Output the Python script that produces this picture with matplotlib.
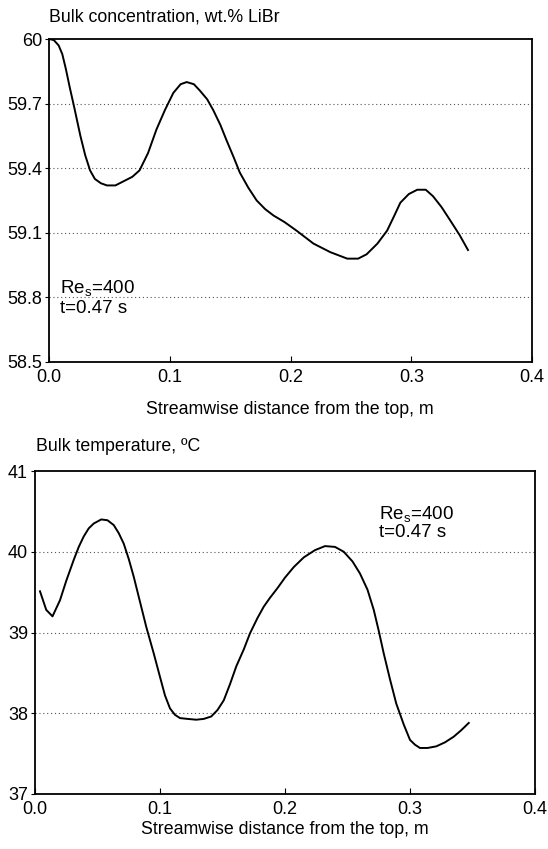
import matplotlib
matplotlib.use("Agg")
import matplotlib.pyplot as plt

# Bulk concentration along the film (wt.% LiBr)
conc_x = [0.0, 0.004, 0.008, 0.011, 0.014, 0.017, 0.021, 0.026, 0.030, 0.034,
          0.038, 0.043, 0.048, 0.055, 0.062, 0.069, 0.075, 0.082, 0.089, 0.096,
          0.103, 0.109, 0.114, 0.12, 0.125, 0.131, 0.136, 0.142, 0.147, 0.153,
          0.158, 0.165, 0.172, 0.179, 0.186, 0.195, 0.205, 0.219, 0.233, 0.247,
          0.256, 0.263, 0.272, 0.280, 0.286, 0.291, 0.298, 0.305, 0.312, 0.318,
          0.325, 0.332, 0.340, 0.347]
conc_y = [60.0, 59.995, 59.97, 59.93, 59.86, 59.78, 59.68, 59.55, 59.46, 59.39,
          59.35, 59.33, 59.32, 59.32, 59.34, 59.36, 59.39, 59.47, 59.58, 59.67,
          59.75, 59.79, 59.80, 59.79, 59.76, 59.72, 59.67, 59.60, 59.53, 59.45,
          59.38, 59.31, 59.25, 59.21, 59.18, 59.15, 59.11, 59.05, 59.01, 58.98,
          58.98, 59.00, 59.05, 59.11, 59.18, 59.24, 59.28, 59.30, 59.30, 59.27,
          59.22, 59.16, 59.09, 59.02]

# Bulk temperature along the film (deg C)
temp_x = [0.004, 0.009, 0.014, 0.02, 0.025, 0.031, 0.035, 0.039, 0.043, 0.047,
          0.053, 0.058, 0.063, 0.067, 0.071, 0.075, 0.079, 0.084, 0.089, 0.095,
          0.1, 0.104, 0.108, 0.112, 0.116, 0.122, 0.129, 0.135, 0.141, 0.146,
          0.151, 0.156, 0.161, 0.167, 0.172, 0.178, 0.183, 0.188, 0.194, 0.2,
          0.207, 0.215, 0.224, 0.232, 0.24, 0.247, 0.254, 0.26, 0.266, 0.271,
          0.275, 0.279, 0.284, 0.289, 0.295, 0.3, 0.304, 0.308, 0.314, 0.321,
          0.328, 0.335, 0.341, 0.347]
temp_y = [39.51, 39.28, 39.20, 39.40, 39.64, 39.90, 40.06, 40.19, 40.29, 40.35,
          40.40, 40.39, 40.33, 40.23, 40.10, 39.91, 39.69, 39.38, 39.07, 38.74,
          38.45, 38.22, 38.06, 37.98, 37.94, 37.93, 37.92, 37.93, 37.96, 38.04,
          38.16, 38.36, 38.58, 38.79, 38.99, 39.18, 39.32, 39.43, 39.55, 39.68,
          39.81, 39.93, 40.02, 40.07, 40.06, 40.00, 39.88, 39.73, 39.53, 39.28,
          39.02, 38.74, 38.42, 38.12, 37.86, 37.67, 37.61, 37.57, 37.57, 37.59,
          37.64, 37.71, 37.79, 37.88]

x_ticks = [0.0, 0.1, 0.2, 0.3, 0.4]
x_labels = ["0.0", "0.1", "0.2", "0.3", "0.4"]
conc_ticks = [58.5, 58.8, 59.1, 59.4, 59.7, 60.0]
conc_labels = ["58.5", "58.8", "59.1", "59.4", "59.7", "60"]
temp_ticks = [37, 38, 39, 40, 41]
temp_labels = ["37", "38", "39", "40", "41"]

plt.rcParams["font.family"] = ["Liberation Sans", "DejaVu Sans"]
plt.rcParams["mathtext.fontset"] = "custom"
plt.rcParams["mathtext.rm"] = "Liberation Sans"
plt.rcParams["font.size"] = 12.8

W, H = 548, 849
fig = plt.figure(figsize=(W / 100, H / 100), dpi=100)


def style_axes(ax, yticks, ylabels, ymin, ymax):
    ax.set_xlim(0, 0.4)
    ax.set_ylim(ymin, ymax)
    ax.set_xticks(x_ticks)
    ax.set_xticklabels(x_labels, fontsize=13)
    ax.set_yticks(yticks)
    ax.set_yticklabels(ylabels, fontsize=13)
    ax.tick_params(axis="x", direction="in", length=4, width=0.8, pad=5)
    ax.tick_params(axis="y", direction="out", length=3, width=0.8, pad=2)
    for s in ax.spines.values():
        s.set_linewidth(1.3)
    # dotted horizontal grid at the y ticks only
    for yv in yticks[1:-1]:
        ax.axhline(yv, color="#555555", lw=0.8, ls=(0, (1, 2.5)), zorder=1)


# top panel: concentration
ax1 = fig.add_axes([49 / W, 1 - 362 / H, 483 / W, 323 / H])
ax1.plot(conc_x, conc_y, color="black", lw=1.4, zorder=3)
style_axes(ax1, conc_ticks, conc_labels, 58.5, 60.0)
ax1.text(0.009, 58.84, r"Re$_{\rm s}$=400", ha="left", va="center", fontsize=13.5)
ax1.text(0.009, 58.75, "t=0.47 s", ha="left", va="center", fontsize=13.5)
fig.text(49 / W, 1 - 17 / H, "Bulk concentration, wt.% LiBr", ha="left", va="center")
fig.text(290 / W, 1 - 409 / H, "Streamwise distance from the top, m", ha="center", va="center")

# bottom panel: temperature
ax2 = fig.add_axes([35 / W, 1 - 794 / H, 500 / W, 323 / H])
ax2.plot(temp_x, temp_y, color="black", lw=1.4, zorder=3)
style_axes(ax2, temp_ticks, temp_labels, 37, 41)
ax2.text(0.275, 40.46, r"Re$_{\rm s}$=400", ha="left", va="center", fontsize=13.5)
ax2.text(0.275, 40.24, "t=0.47 s", ha="left", va="center", fontsize=13.5)
fig.text(36 / W, 1 - 447 / H, "Bulk temperature, ºC", ha="left", va="center")
fig.text(285 / W, 1 - 830 / H, "Streamwise distance from the top, m", ha="center", va="center")

fig.savefig("out.png", dpi=100)
